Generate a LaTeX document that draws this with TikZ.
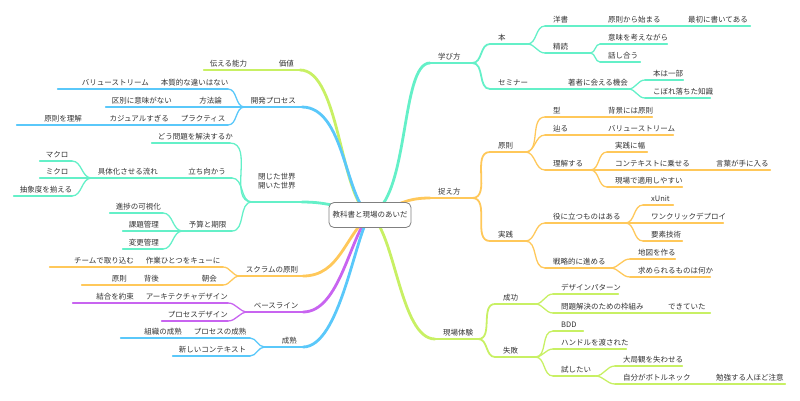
\documentclass[tikz,border=0pt]{standalone}
\usepackage{fontspec}
\newfontfamily\jpfont{Noto Sans CJK JP}
\usetikzlibrary{backgrounds}
\definecolor{mmteal}{HTML}{64F0C8}
\definecolor{mmorange}{HTML}{FFC85A}
\definecolor{mmlime}{HTML}{C8F064}
\definecolor{mmblue}{HTML}{5AC8FA}
\definecolor{mmpurple}{HTML}{C864F0}
\definecolor{mmtxt}{HTML}{333333}
\tikzset{
  mmtext/.style={font=\jpfont\fontsize{7.5}{9.5}\selectfont, text=mmtxt,
    text height=6.5pt, text depth=1pt, inner ysep=2.5pt},
  l1/.style={line width=2.8pt, line cap=round},
  l2/.style={line width=1.8pt, line cap=round},
  l3/.style={line width=1.3pt, line cap=round},
}
% right hand node: name, x1, x2, y, style, text
\newcommand\mmr[6]{%
  \pgfmathsetmacro\mmw{#3-#2-16}%
  \node[mmtext, anchor=south west, inner xsep=8pt, text width=\mmw pt, align=left] (#1) at (#2,#4) {#6};
  \draw[#5] (#1.south west) -- (#1.south east);}
% left hand node
\newcommand\mml[6]{%
  \pgfmathsetmacro\mmw{#3-#2-12}%
  \node[mmtext, anchor=south east, inner xsep=6pt, text width=\mmw pt, align=right] (#1) at (#3,#4) {#6};
  \draw[#5] (#1.south west) -- (#1.south east);}
\begin{document}
\begin{tikzpicture}[x=1pt, y=-1pt]
  \useasboundingbox (0,0) rectangle (800,400);
  \node[mmtext, draw=gray, line width=0.8pt, fill=white, rounded corners=5pt,
    minimum width=82pt, minimum height=25pt] (root) at (370,215) {教科書と現場のあいだ};

  % right: 学び方
  \mmr{manabi}{430}{472}{63}{mmteal,l2}{学び方}
  \mmr{hon}{490}{527}{44}{mmteal,l2}{本}
  \mmr{seminar}{490}{560}{89}{mmteal,l2}{セミナー}
  \mmr{yousho}{545}{600}{26}{mmteal,l3}{洋書}
  \mmr{seidoku}{545}{590}{53}{mmteal,l3}{精読}
  \mmr{chosha}{560}{628}{89}{mmteal,l3}{著者に会える機会}
  \mmr{hajimaru}{600}{660}{26}{mmteal,l3}{原則から始まる}
  \mmr{saisho}{680}{750}{26}{mmteal,l3}{最初に書いてある}
  \mmr{imi}{600}{667}{44}{mmteal,l3}{意味を考えながら}
  \mmr{hanashi}{600}{640}{62}{mmteal,l3}{話し合う}
  \mmr{ichibu}{645}{683}{80}{mmteal,l3}{本は一部}
  \mmr{kobore}{645}{710}{98}{mmteal,l3}{こぼれ落ちた知識}

  % right: 捉え方
  \mmr{torae}{430}{472}{198}{mmorange,l2}{捉え方}
  \mmr{gensoku}{490}{525}{152}{mmorange,l2}{原則}
  \mmr{jissen}{490}{525}{241}{mmorange,l2}{実践}
  \mmr{kata}{545}{600}{117}{mmorange,l3}{型}
  \mmr{tadoru}{545}{600}{135}{mmorange,l3}{辿る}
  \mmr{rikai}{545}{590}{170}{mmorange,l3}{理解する}
  \mmr{haikei}{600}{652}{117}{mmorange,l3}{背景には原則}
  \mmr{value}{600}{673}{135}{mmorange,l3}{バリューストリーム}
  \mmr{haba}{607}{647}{152}{mmorange,l3}{実践に幅}
  \mmr{context}{607}{688}{170}{mmorange,l3}{コンテキストに乗せる}
  \mmr{kotoba}{708}{770}{170}{mmorange,l3}{言葉が手に入る}
  \mmr{tekiyou}{607}{682}{187}{mmorange,l3}{現場で適用しやすい}
  \mmr{yakuni}{545}{625}{223}{mmorange,l3}{役に立つものはある}
  \mmr{xunit}{643}{673}{205}{mmorange,l3}{xUnit}
  \mmr{deploy}{643}{723}{223}{mmorange,l3}{ワンクリックデプロイ}
  \mmr{youso}{643}{682}{241}{mmorange,l3}{要素技術}
  \mmr{senryaku}{545}{610}{268}{mmorange,l3}{戦略的に進める}
  \mmr{chizu}{630}{675}{259}{mmorange,l3}{地図を作る}
  \mmr{motome}{630}{710}{277}{mmorange,l3}{求められるものは何か}

  % right: 現場体験
  \mmr{genba}{435}{478}{339}{mmlime,l2}{現場体験}
  \mmr{seikou}{495}{535}{304}{mmlime,l2}{成功}
  \mmr{shippai}{495}{535}{357}{mmlime,l2}{失敗}
  \mmr{pattern}{553}{618}{294}{mmlime,l3}{デザインパターン}
  \mmr{wakugumi}{553}{640}{313}{mmlime,l3}{問題解決のための枠組み}
  \mmr{dekiteita}{660}{710}{313}{mmlime,l3}{できていた}
  \mmr{bdd}{553}{583}{331}{mmlime,l3}{BDD}
  \mmr{handle}{553}{626}{349}{mmlime,l3}{ハンドルを渡された}
  \mmr{tameshi}{553}{595}{376}{mmlime,l3}{試したい}
  \mmr{taikyoku}{615}{682}{366}{mmlime,l3}{大局観を失わせる}
  \mmr{bottle}{615}{690}{384}{mmlime,l3}{自分がボトルネック}
  \mmr{benkyou}{708}{785}{384}{mmlime,l3}{勉強する人ほど注意}

  % left: 価値, 開発プロセス
  \mml{kachi}{250}{300}{70}{mmlime,l2}{価値}
  \mml{tsutaeru}{204}{250}{70}{mmlime,l3}{伝える能力}
  \mml{kaihatsu}{245}{302}{107}{mmblue,l2}{開発プロセス}
  \mml{honshitsu}{155}{228}{89}{mmblue,l3}{本質的な違いはない}
  \mml{value2}{58}{155}{89}{mmblue,l3}{バリューストリーム}
  \mml{houhou}{168}{228}{107}{mmblue,l3}{方法論}
  \mml{kubetsu}{106}{168}{107}{mmblue,l3}{区別に意味がない}
  \mml{practice}{175}{228}{125}{mmblue,l3}{プラクティス}
  \mml{casual}{88}{175}{125}{mmblue,l3}{カジュアルすぎる}
  \mml{rikai2}{17}{88}{125}{mmblue,l3}{原則を理解}

  % left: 閉じた世界
  \node[mmtext, anchor=south west, inner xsep=6pt, text depth=10.5pt, align=left]
    (sekai) at (252,202) {閉じた世界\\開いた世界};
  \draw[mmteal,l2] (sekai.south west) -- (sekai.south east);
  \mml{dou}{152}{230}{143}{mmteal,l3}{どう問題を解決するか}
  \mml{tachimukau}{160}{232}{178}{mmteal,l3}{立ち向かう}
  \mml{gutaika}{92}{160}{178}{mmteal,l3}{具体化させる流れ}
  \mml{macro}{40}{72}{161}{mmteal,l3}{マクロ}
  \mml{micro}{40}{72}{178}{mmteal,l3}{ミクロ}
  \mml{chuushou}{14}{72}{196}{mmteal,l3}{抽象度を揃える}
  \mml{yosan}{183}{232}{231}{mmteal,l3}{予算と期限}
  \mml{shinchoku}{110}{163}{213}{mmteal,l3}{進捗の可視化}
  \mml{kadai}{123}{163}{231}{mmteal,l3}{課題管理}
  \mml{henkou}{123}{163}{249}{mmteal,l3}{変更管理}

  % left: スクラム, ベースライン, 成熟
  \mml{scrum}{240}{303}{276}{mmorange,l2}{スクラムの原則}
  \mml{sagyou}{140}{223}{267}{mmorange,l3}{作業ひとつをキューに}
  \mml{team}{50}{140}{267}{mmorange,l3}{チームで取り込む}
  \mml{asakai}{165}{223}{285}{mmorange,l3}{朝会}
  \mml{haigo}{133}{165}{285}{mmorange,l3}{背後}
  \mml{gensoku2}{82}{133}{285}{mmorange,l3}{原則}
  \mml{baseline}{248}{303}{312}{mmpurple,l2}{ベースライン}
  \mml{arch}{140}{228}{303}{mmpurple,l3}{アーキテクチャデザイン}
  \mml{ketsugou}{73}{140}{303}{mmpurple,l3}{結合を約束}
  \mml{process}{162}{228}{321}{mmpurple,l3}{プロセスデザイン}
  \mml{seijuku}{265}{303}{347}{mmblue,l2}{成熟}
  \mml{pseijuku}{188}{250}{338}{mmblue,l3}{プロセスの成熟}
  \mml{soshiki}{121}{188}{338}{mmblue,l3}{組織の成熟}
  \mml{atarashii}{173}{250}{356}{mmblue,l3}{新しいコンテキスト}

  % from the root
  \begin{scope}[on background layer]
    \draw[mmteal,l1] (root.center) .. controls (410,200) and (400,63) .. (manabi.south west);
    \draw[mmorange,l1] (root.center) .. controls (400,205) and (405,198) .. (torae.south west);
    \draw[mmlime,l1] (root.center) .. controls (395,230) and (400,339) .. (genba.south west);
    \draw[mmlime,l1] (root.center) .. controls (340,200) and (340,70) .. (kachi.south east);
    \draw[mmblue,l1] (root.center) .. controls (345,200) and (345,107) .. (kaihatsu.south east);
    \draw[mmteal,l1] (root.center) .. controls (340,208) and (330,202) .. (sekai.south east);
    \draw[mmorange,l1] (root.center) .. controls (345,235) and (340,276) .. (scrum.south east);
    \draw[mmpurple,l1] (root.center) .. controls (350,235) and (340,312) .. (baseline.south east);
    \draw[mmblue,l1] (root.center) .. controls (355,235) and (340,347) .. (seijuku.south east);
  \end{scope}

  % right connectors
  \draw[mmteal,l2] (manabi.south east) to[out=0,in=180] (hon.south west);
  \draw[mmteal,l2] (manabi.south east) to[out=0,in=180] (seminar.south west);
  \draw[mmteal,l3] (hon.south east) to[out=0,in=180] (yousho.south west);
  \draw[mmteal,l3] (hon.south east) to[out=0,in=180] (seidoku.south west);
  \draw[mmteal,l3] (seminar.south east) -- (chosha.south west);
  \draw[mmteal,l3] (yousho.south east) -- (hajimaru.south west);
  \draw[mmteal,l3] (hajimaru.south east) -- (saisho.south west);
  \draw[mmteal,l3] (seidoku.south east) to[out=0,in=180] (imi.south west);
  \draw[mmteal,l3] (seidoku.south east) to[out=0,in=180] (hanashi.south west);
  \draw[mmteal,l3] (chosha.south east) to[out=0,in=180] (ichibu.south west);
  \draw[mmteal,l3] (chosha.south east) to[out=0,in=180] (kobore.south west);

  \draw[mmorange,l2] (torae.south east) to[out=0,in=180] (gensoku.south west);
  \draw[mmorange,l2] (torae.south east) to[out=0,in=180] (jissen.south west);
  \draw[mmorange,l3] (gensoku.south east) to[out=0,in=180] (kata.south west);
  \draw[mmorange,l3] (gensoku.south east) to[out=0,in=180] (tadoru.south west);
  \draw[mmorange,l3] (gensoku.south east) to[out=0,in=180] (rikai.south west);
  \draw[mmorange,l3] (kata.south east) -- (haikei.south west);
  \draw[mmorange,l3] (tadoru.south east) -- (value.south west);
  \draw[mmorange,l3] (rikai.south east) to[out=0,in=180] (haba.south west);
  \draw[mmorange,l3] (rikai.south east) to[out=0,in=180] (context.south west);
  \draw[mmorange,l3] (rikai.south east) to[out=0,in=180] (tekiyou.south west);
  \draw[mmorange,l3] (context.south east) -- (kotoba.south west);
  \draw[mmorange,l3] (jissen.south east) to[out=0,in=180] (yakuni.south west);
  \draw[mmorange,l3] (jissen.south east) to[out=0,in=180] (senryaku.south west);
  \draw[mmorange,l3] (yakuni.south east) to[out=0,in=180] (xunit.south west);
  \draw[mmorange,l3] (yakuni.south east) to[out=0,in=180] (deploy.south west);
  \draw[mmorange,l3] (yakuni.south east) to[out=0,in=180] (youso.south west);
  \draw[mmorange,l3] (senryaku.south east) to[out=0,in=180] (chizu.south west);
  \draw[mmorange,l3] (senryaku.south east) to[out=0,in=180] (motome.south west);

  \draw[mmlime,l2] (genba.south east) to[out=0,in=180] (seikou.south west);
  \draw[mmlime,l2] (genba.south east) to[out=0,in=180] (shippai.south west);
  \draw[mmlime,l3] (seikou.south east) to[out=0,in=180] (pattern.south west);
  \draw[mmlime,l3] (seikou.south east) to[out=0,in=180] (wakugumi.south west);
  \draw[mmlime,l3] (wakugumi.south east) -- (dekiteita.south west);
  \draw[mmlime,l3] (shippai.south east) to[out=0,in=180] (bdd.south west);
  \draw[mmlime,l3] (shippai.south east) to[out=0,in=180] (handle.south west);
  \draw[mmlime,l3] (shippai.south east) to[out=0,in=180] (tameshi.south west);
  \draw[mmlime,l3] (tameshi.south east) to[out=0,in=180] (taikyoku.south west);
  \draw[mmlime,l3] (tameshi.south east) to[out=0,in=180] (bottle.south west);
  \draw[mmlime,l3] (bottle.south east) -- (benkyou.south west);

  % left connectors
  \draw[mmlime,l3] (kachi.south west) -- (tsutaeru.south east);
  \draw[mmblue,l3] (kaihatsu.south west) to[out=180,in=0] (honshitsu.south east);
  \draw[mmblue,l3] (kaihatsu.south west) to[out=180,in=0] (houhou.south east);
  \draw[mmblue,l3] (kaihatsu.south west) to[out=180,in=0] (practice.south east);
  \draw[mmblue,l3] (honshitsu.south west) -- (value2.south east);
  \draw[mmblue,l3] (houhou.south west) -- (kubetsu.south east);
  \draw[mmblue,l3] (practice.south west) -- (casual.south east);
  \draw[mmblue,l3] (casual.south west) -- (rikai2.south east);

  \draw[mmteal,l3] (sekai.south west) to[out=180,in=0] (dou.south east);
  \draw[mmteal,l3] (sekai.south west) to[out=180,in=0] (tachimukau.south east);
  \draw[mmteal,l3] (sekai.south west) to[out=180,in=0] (yosan.south east);
  \draw[mmteal,l3] (tachimukau.south west) -- (gutaika.south east);
  \draw[mmteal,l3] (gutaika.south west) to[out=180,in=0] (macro.south east);
  \draw[mmteal,l3] (gutaika.south west) to[out=180,in=0] (micro.south east);
  \draw[mmteal,l3] (gutaika.south west) to[out=180,in=0] (chuushou.south east);
  \draw[mmteal,l3] (yosan.south west) to[out=180,in=0] (shinchoku.south east);
  \draw[mmteal,l3] (yosan.south west) to[out=180,in=0] (kadai.south east);
  \draw[mmteal,l3] (yosan.south west) to[out=180,in=0] (henkou.south east);

  \draw[mmorange,l3] (scrum.south west) to[out=180,in=0] (sagyou.south east);
  \draw[mmorange,l3] (scrum.south west) to[out=180,in=0] (asakai.south east);
  \draw[mmorange,l3] (sagyou.south west) -- (team.south east);
  \draw[mmorange,l3] (asakai.south west) -- (haigo.south east);
  \draw[mmorange,l3] (haigo.south west) -- (gensoku2.south east);
  \draw[mmpurple,l3] (baseline.south west) to[out=180,in=0] (arch.south east);
  \draw[mmpurple,l3] (baseline.south west) to[out=180,in=0] (process.south east);
  \draw[mmpurple,l3] (arch.south west) -- (ketsugou.south east);
  \draw[mmblue,l3] (seijuku.south west) to[out=180,in=0] (pseijuku.south east);
  \draw[mmblue,l3] (seijuku.south west) to[out=180,in=0] (atarashii.south east);
  \draw[mmblue,l3] (pseijuku.south west) -- (soshiki.south east);
\end{tikzpicture}
\end{document}
